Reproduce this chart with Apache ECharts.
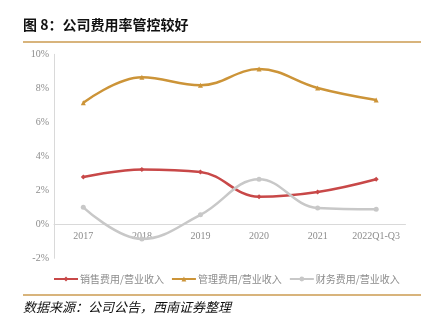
<!DOCTYPE html>
<html><head><meta charset="utf-8">
<script src="https://cdn.jsdelivr.net/npm/echarts@6/dist/echarts.min.js"></script>
<style>
html,body{margin:0;padding:0;background:#fff;}
#wrap{position:relative;width:427px;height:325px;}
#chart{position:absolute;left:0;top:0;width:427px;height:325px;}
</style></head>
<body><div id="wrap"><div id="chart"></div></div>
<script>
const title = '图 8：公司费用率管控较好';
const source = '数据来源：公司公告，西南证券整理';
const categories = ['2017','2018','2019','2020','2021','2022Q1-Q3'];
const seriesNames = ['销售费用/营业收入','管理费用/营业收入','财务费用/营业收入'];
const salesRatio = [2.78, 3.23, 3.08, 1.62, 1.90, 2.65];
const adminRatio = [7.15, 8.65, 8.18, 9.13, 8.02, 7.31];
const financeRatio = [1.00, -0.86, 0.56, 2.65, 0.96, 0.88];
const yTicks = [-2, 0, 2, 4, 6, 8, 10];

const colors = ['#C84848', '#CC9438', '#C8C8C8'];
const symbols = ['diamond', 'triangle', 'circle'];
const dataSets = [salesRatio, adminRatio, financeRatio];

const chart = echarts.init(document.getElementById('chart'), null, {renderer: 'canvas'});
const axisFont = {color: '#8c8c8c', fontFamily: '"Liberation Serif", "Noto Sans CJK SC", serif', fontSize: 10};

const gridTop = 54.3, gridBottomY = 258.3;
const zeroOffset = (gridBottomY - gridTop) * (0 - yTicks[0]) / (yTicks[yTicks.length - 1] - yTicks[0]);

chart.setOption({
  animation: false,
  graphic: [
    {type: 'text', left: 23, top: 18, style: {text: title, font: 'bold 14px "Noto Sans CJK SC"', fill: '#111'}},
    {type: 'rect', shape: {x: 23, y: 41, width: 398, height: 2}, style: {fill: '#D8B47C'}},
    {type: 'rect', shape: {x: 23, y: 294, width: 398, height: 2}, style: {fill: '#D8B47C'}},
    {type: 'text', left: 23, top: 301, style: {text: source, font: 'italic 13px "Noto Sans CJK SC"', fill: '#111'}}
  ],
  grid: {left: 54, right: 21.5, top: gridTop, bottom: 325 - gridBottomY, containLabel: false},
  legend: {
    top: 274, left: 53, padding: 0,
    itemWidth: 24, itemHeight: 6, itemGap: 7,
    textStyle: {color: '#8c8c8c', fontSize: 10, fontFamily: '"Noto Sans CJK SC"', padding: [0, 0, 0, -3]},
    data: seriesNames
  },
  xAxis: {
    type: 'category', data: categories, boundaryGap: true,
    offset: -zeroOffset,
    axisLine: {onZero: false, lineStyle: {color: '#d9d9d9'}},
    axisTick: {show: false},
    axisLabel: Object.assign({margin: 7, interval: 0}, axisFont)
  },
  yAxis: {
    type: 'value', min: yTicks[0], max: yTicks[yTicks.length - 1], interval: 2,
    axisLine: {show: true, lineStyle: {color: '#d9d9d9'}},
    axisTick: {show: false},
    splitLine: {show: false},
    axisLabel: Object.assign({margin: 5, formatter: v => v + '%'}, axisFont)
  },
  series: seriesNames.map((n, i) => ({
    name: n, type: 'line', smooth: 0.4, data: dataSets[i],
    symbol: symbols[i], symbolSize: 5, showSymbol: true,
    lineStyle: {width: 2.5, color: colors[i]},
    itemStyle: {color: colors[i]}
  }))
});
</script></body></html>
